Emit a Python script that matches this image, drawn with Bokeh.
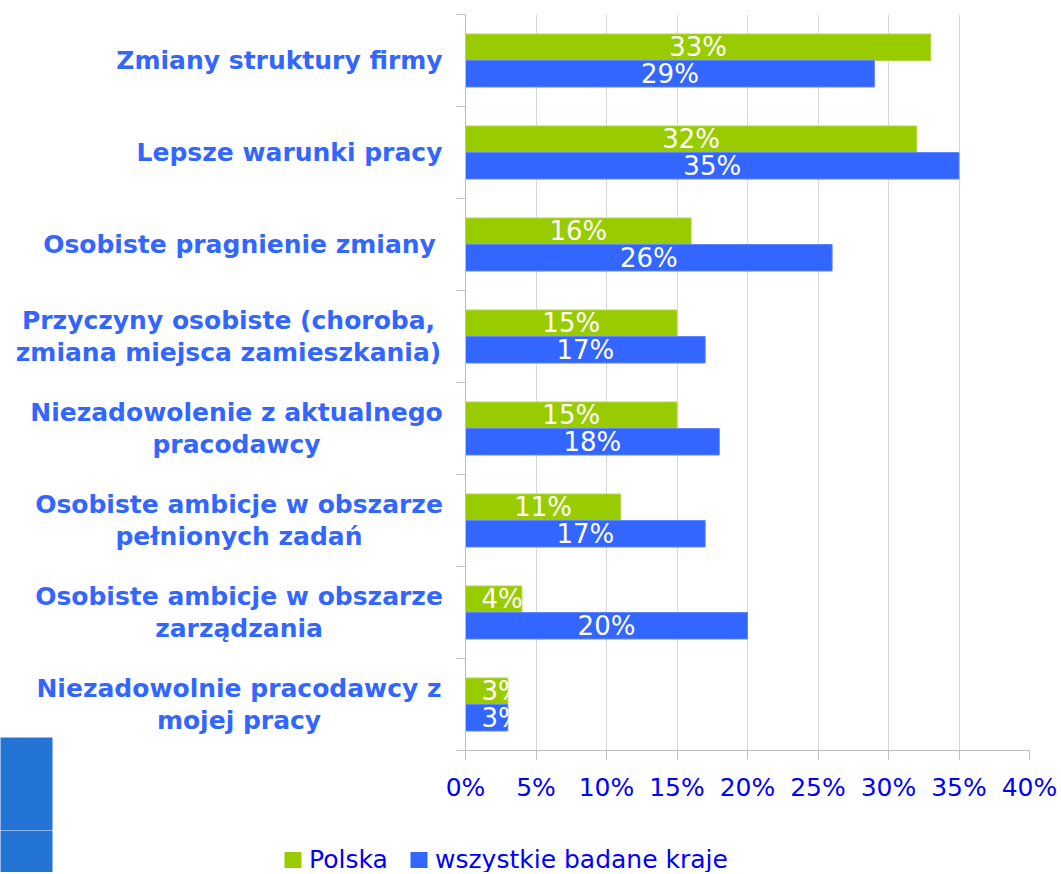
from bokeh.plotting import figure
from bokeh.layouts import row, column
from bokeh.models import (Range1d, FixedTicker, PrintfTickFormatter, ColumnDataSource)
from bokeh.core.properties import value
from bokeh.embed import file_html
from bokeh.resources import INLINE

# ---------------- data ----------------
categories = [
    "Zmiany struktury firmy",
    "Lepsze warunki pracy",
    "Osobiste pragnienie zmiany",
    "Przyczyny osobiste (choroba,\nzmiana miejsca zamieszkania)",
    "Niezadowolenie z aktualnego\npracodawcy",
    "Osobiste ambicje w obszarze\npełnionych zadań",
    "Osobiste ambicje w obszarze\nzarządzania",
    "Niezadowolnie pracodawcy z\nmojej pracy",
]
polska = [33, 32, 16, 15, 15, 11, 4, 3]
wszystkie = [29, 35, 26, 17, 18, 17, 20, 3]
series_names = ["Polska", "wszystkie badane kraje"]
x_ticks = [0, 5, 10, 15, 20, 25, 30, 35, 40]

# ---------------- style / layout ----------------
GREEN = "#99CC00"
BLUE = "#3366FF"
TEXT_BLUE = "#0000FF"
CAT_BLUE = "#3366FF"
DECO_BLUE = "#2374D5"
FONT = "DejaVu Sans"
BAR_H = 0.288

TOTAL_W = 1060
TOP_H = 830          # height of the chart row
LEG_H = 42           # height of the legend strip
LEFT_W = 443         # width of the category-label panel
FRAME_L, FRAME_R = 465, 1029   # plot frame, page px
FRAME_T, FRAME_B = 14, 750
BAND = (FRAME_B - FRAME_T) / len(categories)

# centre x (px) of each category label block
label_cx = [279, 289, 239, 228, 236, 238.5, 238.5, 238.5]
LINE_OFF = 0.174

n = len(categories)
centers = [i + 0.5 for i in range(n)]

# ---------------- main chart ----------------
M_W = TOTAL_W - LEFT_W
p = figure(width=M_W, height=TOP_H, output_backend="svg", toolbar_location=None,
           x_range=Range1d(0, 40), y_range=Range1d(n, 0),
           min_border_left=FRAME_L - LEFT_W, min_border_right=TOTAL_W - FRAME_R,
           min_border_top=FRAME_T, min_border_bottom=TOP_H - FRAME_B)
p.outline_line_color = None

src_g = ColumnDataSource(dict(y=[c - BAR_H / 2 for c in centers], v=polska,
                              lx=[max(v / 2, 2.6) for v in polska],
                              t=[f"{v}%" for v in polska]))
src_b = ColumnDataSource(dict(y=[c + BAR_H / 2 for c in centers], v=wszystkie,
                              lx=[max(v / 2, 2.6) for v in wszystkie],
                              t=[f"{v}%" for v in wszystkie]))

p.hbar(y="y", right="v", left=0, height=BAR_H, source=src_g,
       fill_color=GREEN, line_color="#ADD843", line_width=1)
p.hbar(y="y", right="v", left=0, height=BAR_H, source=src_b,
       fill_color=BLUE, line_color="#5F84FF", line_width=1)

for src in (src_g, src_b):
    p.text(x="lx", y="y", text="t", source=src, text_color="white",
           text_font=value(FONT), text_font_size="26px",
           text_align="center", text_baseline="middle")

p.xaxis.ticker = FixedTicker(ticks=x_ticks)
p.xaxis.formatter = PrintfTickFormatter(format="%d%%")
p.xaxis.axis_line_color = "#BFBFBF"
p.xaxis.major_tick_line_color = "#BFBFBF"
p.xaxis.major_tick_out = 9
p.xaxis.major_tick_in = 0
p.xaxis.minor_tick_line_color = None
p.xaxis.major_label_text_font = FONT
p.xaxis.major_label_text_font_size = "25px"
p.xaxis.major_label_text_color = TEXT_BLUE
p.xaxis.major_label_standoff = 13

p.xgrid.ticker = FixedTicker(ticks=x_ticks)
p.xgrid.grid_line_color = "#D9D9D9"
p.ygrid.grid_line_color = None

p.yaxis.ticker = FixedTicker(ticks=list(range(n + 1)))
p.yaxis.axis_line_color = "#BFBFBF"
p.yaxis.major_tick_line_color = "#BFBFBF"
p.yaxis.major_tick_out = 9
p.yaxis.major_tick_in = 0
p.yaxis.minor_tick_line_color = None
p.yaxis.major_label_overrides = {i: "" for i in range(n + 1)}
p.yaxis.major_label_standoff = 0
p.yaxis.major_label_text_font_size = "1px"

# ---------------- category label panel ----------------
y_top = -FRAME_T / BAND
y_bot = (TOP_H - FRAME_T) / BAND
L = figure(width=LEFT_W, height=TOP_H, output_backend="svg", toolbar_location=None,
           x_range=Range1d(0, LEFT_W), y_range=Range1d(y_bot, y_top),
           min_border=0, x_axis_type=None, y_axis_type=None, frame_align=False)
L.outline_line_color = None
L.grid.grid_line_color = None

lx, ly, lt = [], [], []
for i, (cat, cx) in enumerate(zip(categories, label_cx)):
    lines = cat.split("\n")
    ys = [centers[i]] if len(lines) == 1 else [centers[i] - LINE_OFF, centers[i] + LINE_OFF]
    for line, yy in zip(lines, ys):
        lx.append(cx); ly.append(yy); lt.append(line)
L.text(x=lx, y=ly, text=lt, text_font=value(FONT), text_font_style="bold",
       text_font_size="25px", text_color=CAT_BLUE, text_align="center",
       text_baseline="middle")
# decorative block (upper part), extended past the panel edge
L.quad(left=[-5], right=[52], top=[(737 - FRAME_T) / BAND], bottom=[y_bot + 1],
       fill_color=DECO_BLUE, line_color=None)

# ---------------- legend strip ----------------
B = figure(width=TOTAL_W, height=LEG_H, output_backend="svg", toolbar_location=None,
           x_range=Range1d(0, TOTAL_W), y_range=Range1d(TOP_H + LEG_H, TOP_H),
           min_border=0, x_axis_type=None, y_axis_type=None, frame_align=False)
B.outline_line_color = None
B.grid.grid_line_color = None
B.quad(left=[-5], right=[52], top=[TOP_H - 10], bottom=[TOP_H + LEG_H + 10],
       fill_color=DECO_BLUE, line_color=None)
leg_x = [292.5, 418.5]
leg_y = 859.5
B.rect(x=leg_x, y=[leg_y, leg_y], width=17, height=16,
       fill_color=[GREEN, BLUE], line_color=None)
B.text(x=[x + 16 for x in leg_x], y=[leg_y - 1, leg_y - 1], text=series_names,
       text_font=value(FONT), text_font_size="25px", text_color=TEXT_BLUE,
       text_align="left", text_baseline="middle")

layout = column(row(L, p, spacing=0), B, spacing=0)
open("out.html", "w").write(file_html(layout, INLINE))
